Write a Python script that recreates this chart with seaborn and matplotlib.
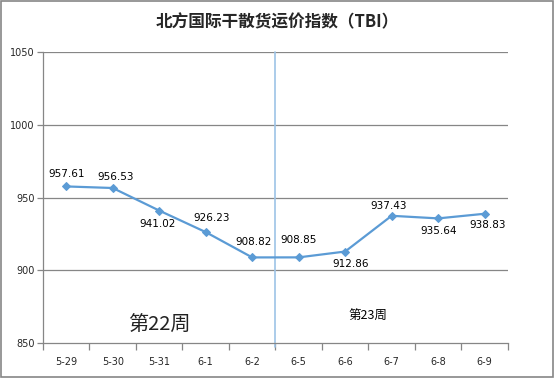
import numpy as np
import matplotlib
matplotlib.use('Agg')
import matplotlib.pyplot as plt
import seaborn as sns
import pandas as pd
from matplotlib.patches import Rectangle

# chart data
dates = ['5-29', '5-30', '5-31', '6-1', '6-2', '6-5', '6-6', '6-7', '6-8', '6-9']
tbi = [957.61, 956.53, 941.02, 926.23, 908.82, 908.85, 912.86, 937.43, 935.64, 938.83]
week_labels = ['第22周', '第23周']

df = pd.DataFrame({'pos': np.arange(len(dates)), 'date': dates, 'tbi': tbi})

sns.set_style('white')
plt.rcParams['font.family'] = ['DejaVu Sans', 'Noto Sans CJK SC']
cjk = ['Noto Sans CJK SC', 'DejaVu Sans']

fig = plt.figure(figsize=(5.55, 3.78), dpi=100)
ax = fig.add_axes([0.0775, 0.0926, 0.8375, 0.7698])

grid_col = '#868686'
line_col = '#5B9BD5'

for y in [900, 950, 1000, 1050]:
    ax.axhline(y, color=grid_col, linewidth=0.9, zorder=0)

sns.lineplot(data=df, x='pos', y='tbi', color=line_col, linewidth=1.6,
             marker='D', markersize=4.5, markeredgecolor=line_col, ax=ax)

# week separator
ax.axvline(4.5, ymin=-0.015, ymax=1.0, color='#9DC3E6', linewidth=1.2,
           clip_on=False, zorder=1)

# value labels (pixel offsets from the points)
offsets = [(0, 12), (3, 11), (-2, -13), (6, 14), (1, 15),
           (0, 17), (5, -12), (-3, 10), (1, -13), (3, -11)]
for (x, v), (dx, dy) in zip(zip(df['pos'], df['tbi']), offsets):
    ax.annotate(f'{v:.2f}', (x, v), xytext=(dx, dy), textcoords='offset pixels',
                ha='center', va='center', fontsize=7.5, color='black')

ax.text(2.0, 862, week_labels[0], ha='center', va='center', fontsize=14.5,
        color='#222222', family=cjk)
ax.text(6.5, 868, week_labels[1], ha='center', va='center', fontsize=9,
        color='black', family=cjk)

ax.set_xlim(-0.5, 9.5)
ax.set_ylim(850, 1050)
ax.set_yticks([850, 900, 950, 1000, 1050])
ax.set_xticks(np.arange(len(dates)))
ax.set_xticklabels(dates)
ax.set_xticks(np.arange(-0.5, 10, 1), minor=True)
ax.tick_params(axis='x', which='major', length=0, labelsize=7, pad=10)
ax.tick_params(axis='x', which='minor', length=5, width=0.9, color=grid_col,
               direction='out', bottom=True)
ax.tick_params(axis='y', length=4, width=0.9, color=grid_col, labelsize=7,
               left=True, pad=2)
ax.set_xlabel('')
ax.set_ylabel('')

for side in ['top', 'right']:
    ax.spines[side].set_visible(False)
for side in ['left', 'bottom']:
    ax.spines[side].set_color(grid_col)
    ax.spines[side].set_linewidth(0.9)

fig.suptitle('北方国际干散货运价指数（TBI）', x=0.5, y=0.942, fontsize=12,
             fontweight='bold', va='center', family=cjk)

# figure frame
fig.patches.append(Rectangle((0.002, 0.003), 0.995, 0.994, transform=fig.transFigure,
                             fill=False, edgecolor=grid_col, linewidth=1.2))

fig.savefig('out.png', dpi=100)
